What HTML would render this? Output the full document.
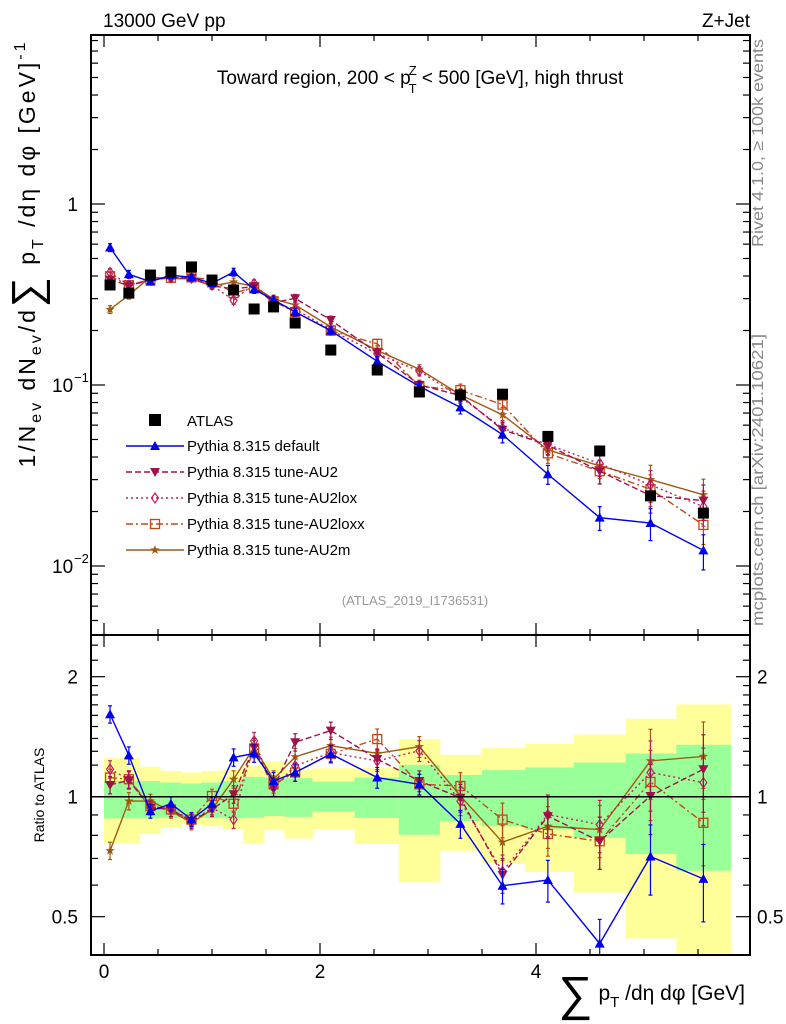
<!DOCTYPE html>
<html><head><meta charset="utf-8"><style>
html,body{margin:0;padding:0;background:#fff;}
svg{display:block;font-family:"Liberation Sans",sans-serif;}
</style></head><body>
<svg id="c" width="786" height="1024" viewBox="0 0 786 1024" xmlns="http://www.w3.org/2000/svg">
<g id="bands"></g><g id="marks"></g><g id="axes"></g>
<text x="103" y="27" font-size="19">13000 GeV pp</text>
<text x="750" y="27" font-size="19" text-anchor="end">Z+Jet</text>
<text x="420" y="84" font-size="19" text-anchor="middle">Toward region, 200 &lt; p<tspan font-size="13" dx="-2" dy="-9">Z</tspan><tspan font-size="13" dx="-8" dy="18">T</tspan><tspan dy="-9"> &lt; 500 [GeV], high thrust</tspan></text>
<text x="415" y="605" font-size="13" fill="#999" text-anchor="middle">(ATLAS_2019_I1736531)</text>
<text transform="translate(763,143) rotate(-90)" font-size="16" fill="#888" text-anchor="middle" textLength="208" lengthAdjust="spacingAndGlyphs">Rivet 4.1.0, ≥ 100k events</text>
<text transform="translate(763,480) rotate(-90)" font-size="16" fill="#888" text-anchor="middle" textLength="292" lengthAdjust="spacingAndGlyphs">mcplots.cern.ch [arXiv:2401.10621]</text>
<text transform="translate(35,255) rotate(-90)" font-size="23" text-anchor="middle" textLength="425" lengthAdjust="spacing">1/N<tspan font-size="16" dy="6">ev</tspan><tspan dy="-6"> dN</tspan><tspan font-size="16" dy="6">ev</tspan><tspan dy="-6">/d</tspan><tspan font-size="42" dy="6">∑</tspan><tspan dy="-6"> p</tspan><tspan font-size="16" dy="8">T</tspan><tspan dy="-8"> /dη dφ  [GeV]</tspan><tspan font-size="16" dy="-10">-1</tspan></text>
<text transform="translate(44,795) rotate(-90)" font-size="14" text-anchor="middle">Ratio to ATLAS</text>
<text x="745" y="1000" font-size="21" text-anchor="end"><tspan font-size="48" dy="10">∑</tspan><tspan dy="-10"> p</tspan><tspan font-size="15" dy="7">T</tspan><tspan dy="-7"> /dη dφ [GeV]</tspan></text>
<g id="legend"></g>
</svg>
<script>
const xVals=[0.056,0.23,0.43,0.62,0.81,1.0,1.2,1.39,1.57,1.77,2.1,2.53,2.92,3.3,3.69,4.11,4.59,5.06,5.55];
const binEdges=[0,0.14,0.33,0.52,0.71,0.9,1.1,1.29,1.48,1.67,1.93,2.32,2.73,3.11,3.5,3.9,4.35,4.83,5.3,5.8];
const dataVals=[0.357,0.322,0.405,0.421,0.449,0.380,0.335,0.263,0.270,0.220,0.156,0.121,0.0915,0.088,0.089,0.052,0.0432,0.0244,0.0196];
const yellowUp=[1.250,1.250,1.188,1.161,1.150,1.161,1.172,1.195,1.226,1.172,1.179,1.179,1.395,1.274,1.324,1.356,1.431,1.568,1.704];
const yellowLo=[0.765,0.765,0.807,0.838,0.851,0.843,0.827,0.765,0.824,0.785,0.830,0.761,0.610,0.732,0.681,0.647,0.575,0.441,0.385];
const greenUp=[1.095,1.095,1.095,1.085,1.079,1.085,1.095,1.121,1.117,1.113,1.091,1.117,1.202,1.134,1.166,1.184,1.218,1.284,1.35];
const greenLo=[0.882,0.882,0.882,0.885,0.890,0.885,0.882,0.885,0.894,0.890,0.917,0.885,0.803,0.868,0.843,0.827,0.788,0.718,0.652];
const ratioDefault=[1.61,1.27,0.92,0.96,0.877,0.96,1.255,1.284,1.095,1.15,1.28,1.117,1.074,0.855,0.598,0.618,0.428,0.708,0.622];
const ratioAU2=[1.07,1.10,0.938,0.929,0.868,0.929,1.014,1.33,1.054,1.37,1.465,1.243,1.095,0.994,0.636,0.894,0.773,1.004,1.172];
const ratioAU2lox=[1.172,1.106,0.938,0.929,0.868,0.938,0.876,1.38,1.054,1.195,1.29,1.23,1.304,0.975,0.649,0.902,0.851,1.15,1.085];
const ratioAU2loxx=[1.117,1.106,0.947,0.929,0.876,1.004,0.96,1.317,1.074,1.15,1.28,1.395,1.074,1.064,0.876,0.806,0.773,1.089,0.86];
const ratioAU2m=[0.732,0.975,0.975,0.92,0.86,0.929,1.106,1.33,1.106,1.259,1.343,1.284,1.335,1.004,0.769,0.843,0.827,1.23,1.262];
const relErr=[0.05,0.05,0.04,0.04,0.04,0.04,0.05,0.05,0.05,0.05,0.05,0.06,0.06,0.08,0.1,0.12,0.15,0.2,0.22];
const seriesNames=["Pythia 8.315 default","Pythia 8.315 tune-AU2","Pythia 8.315 tune-AU2lox","Pythia 8.315 tune-AU2loxx","Pythia 8.315 tune-AU2m"];

const NS="http://www.w3.org/2000/svg";
const L=91,R=750,T=35,M=635,B=955;
const X=v=>104+108*v;
const Y=v=>204-181*Math.log10(v);
const RY=v=>796.7-398.6*Math.log10(v);
function el(p,t,a){const e=document.createElementNS(NS,t);for(const k in a)e.setAttribute(k,a[k]);p.appendChild(e);return e;}
const gB=document.getElementById('bands'),gM=document.getElementById('marks'),gA=document.getElementById('axes'),gL=document.getElementById('legend');
const clipR=el(gM,'clipPath',{id:'cr'});el(clipR,'rect',{x:L,y:M,width:R-L,height:B-M});
const clipM=el(gM,'clipPath',{id:'cm'});el(clipM,'rect',{x:L,y:T,width:R-L,height:M-T});
for(let i=0;i<xVals.length;i++){
  const x0=X(binEdges[i]),x1=X(binEdges[i+1]);
  const yb=el(gB,'rect',{x:x0,y:RY(yellowUp[i]),width:x1-x0+0.5,height:RY(yellowLo[i])-RY(yellowUp[i]),fill:'#ffff99','clip-path':'url(#cr)'});
  
  
  const gb=el(gB,'rect',{x:x0,y:RY(greenUp[i]),width:x1-x0+0.5,height:RY(greenLo[i])-RY(greenUp[i]),fill:'#99ff99','clip-path':'url(#cr)'});
  
  
}
el(gA,'line',{x1:L,x2:R,y1:RY(1),y2:RY(1),stroke:'#000','stroke-width':1.5});
function marker(g,type,x,y,c){
  const s=5;
  if(type==='tu')el(g,'polygon',{points:`${x},${y-s} ${x-s},${y+s*0.8} ${x+s},${y+s*0.8}`,fill:c});
  else if(type==='td')el(g,'polygon',{points:`${x},${y+s} ${x-s},${y-s*0.8} ${x+s},${y-s*0.8}`,fill:c});
  else if(type==='dia')el(g,'polygon',{points:`${x},${y-s} ${x-3.5},${y} ${x},${y+s} ${x+3.5},${y}`,fill:'none',stroke:c,'stroke-width':1.2});
  else if(type==='sq')el(g,'rect',{x:x-4.5,y:y-4.5,width:9,height:9,fill:'none',stroke:c,'stroke-width':1.3});
  else if(type==='star'){let p=[];for(let k=0;k<10;k++){const r=k%2?2:5,a=-Math.PI/2+k*Math.PI/5;p.push((x+r*Math.cos(a)).toFixed(1)+','+(y+r*Math.sin(a)).toFixed(1));}el(g,'polygon',{points:p.join(' '),fill:c});}
}
const series=[
 {r:ratioDefault,c:'#0000ee',m:'tu',d:'',n:'default'},
 {r:ratioAU2,c:'#a0104a',m:'td',d:'6,3',n:'au2'},
 {r:ratioAU2lox,c:'#c02060',m:'dia',d:'2,3',n:'au2lox'},
 {r:ratioAU2loxx,c:'#c04818',m:'sq',d:'7,3,2,3',n:'au2loxx'},
 {r:ratioAU2m,c:'#a05a10',m:'star',d:'',n:'au2m'}];
for(let si=series.length-1;si>=0;si--){
  const s=series[si];
  const gm=el(gM,'g',{'clip-path':'url(#cm)'});
  
  
  const gr=el(gM,'g',{'clip-path':'url(#cr)'});
  
  
  const pm=[],pr=[];
  for(let i=0;i<xVals.length;i++){
    const v=s.r[i]*dataVals[i];pm.push(X(xVals[i])+','+Y(v));pr.push(X(xVals[i])+','+RY(s.r[i]));
  }
  el(gm,'polyline',{points:pm.join(' '),fill:'none',stroke:s.c,'stroke-width':1.4,'stroke-dasharray':s.d});
  el(gr,'polyline',{points:pr.join(' '),fill:'none',stroke:s.c,'stroke-width':1.4,'stroke-dasharray':s.d});
  for(let i=0;i<xVals.length;i++){
    const x=X(xVals[i]),v=s.r[i]*dataVals[i],e=relErr[i];
    [[gm,Y(v*(1+e)),Y(v*(1-e)),Y(v)],[gr,RY(s.r[i]*(1+e)),RY(s.r[i]*(1-e)),RY(s.r[i])]].forEach(([g,a,b,y])=>{
      el(g,'line',{x1:x,x2:x,y1:a,y2:b,stroke:s.c,'stroke-width':1.2});
      el(g,'line',{x1:x-2,x2:x+2,y1:a,y2:a,stroke:s.c,'stroke-width':1.2});
      el(g,'line',{x1:x-2,x2:x+2,y1:b,y2:b,stroke:s.c,'stroke-width':1.2});
      marker(g,s.m,x,y,s.c);
    });
  }
}
for(let i=0;i<xVals.length;i++){
  const r=el(gM,'rect',{x:X(xVals[i])-5.5,y:Y(dataVals[i])-5.5,width:11,height:11,fill:'#000'});
  
  
}
el(gA,'rect',{x:L,y:T,width:R-L,height:M-T,fill:'none',stroke:'#000','stroke-width':2});
el(gA,'rect',{x:L,y:M,width:R-L,height:B-M,fill:'none',stroke:'#000','stroke-width':2});
for(let v=0;v<=5.9;v+=0.5){
  const x=X(v),maj=Math.abs(v%2)<1e-6,len=maj?12:6;
  [[T,1],[M,-1],[M,1],[B,-1]].forEach(([y,d])=>el(gA,'line',{x1:x,x2:x,y1:y,y2:y+d*len,stroke:'#000','stroke-width':1.2}));
  if(maj){const t=el(gA,'text',{x:x,y:978,'font-size':19,'text-anchor':'middle'});t.textContent=v;}
}
for(let e=-3;e<=0;e++)for(let k=1;k<=9;k++){
  const v=k*Math.pow(10,e),y=Y(v);if(y<T||y>M)continue;const len=k===1?14:7;
  el(gA,'line',{x1:L,x2:L+len,y1:y,y2:y,stroke:'#000','stroke-width':1.2});
  el(gA,'line',{x1:R,x2:R-len,y1:y,y2:y,stroke:'#000','stroke-width':1.2});
}
[[1,'1'],[0.1,'10'],[0.01,'10']].forEach(([v,s],j)=>{
  const t=el(gA,'text',{x:j?52:78,y:Y(v)+7,'font-size':19,'text-anchor':j?'start':'end'});t.textContent=s;
  if(j){const u=el(gA,'text',{x:74,y:Y(v)-3,'font-size':13});u.textContent=j===1?'−1':'−2';}
});
const rt=[0.4,0.5,0.6,0.7,0.8,0.9,1,1.2,1.3,1.4,1.5,1.6,1.7,1.8,1.9,2,2.2,2.4];
rt.forEach(v=>{const y=RY(v);const maj=[0.5,1,2].includes(v),len=maj?14:7;
  el(gA,'line',{x1:L,x2:L+len,y1:y,y2:y,stroke:'#000','stroke-width':1.2});
  el(gA,'line',{x1:R,x2:R-len,y1:y,y2:y,stroke:'#000','stroke-width':1.2});
  if(maj){const a=el(gA,'text',{x:78,y:y+7,'font-size':19,'text-anchor':'end'});a.textContent=v;
    const b=el(gA,'text',{x:757,y:y+7,'font-size':19});b.textContent=v;}
});
const lx=155;let ly=420;
el(gL,'rect',{x:lx-6,y:ly-6,width:12,height:12,fill:'#000'});
let t=el(gL,'text',{x:187,y:ly+6,'font-size':15});t.textContent='ATLAS';
series.forEach((s,i)=>{ly+=26;
  el(gL,'line',{x1:126,x2:184,y1:ly,y2:ly,stroke:s.c,'stroke-width':1.4,'stroke-dasharray':s.d});
  marker(gL,s.m,lx,ly,s.c);
  const tt=el(gL,'text',{x:187,y:ly+5,'font-size':15});tt.textContent=seriesNames[i];
});
</script>
</body></html>
